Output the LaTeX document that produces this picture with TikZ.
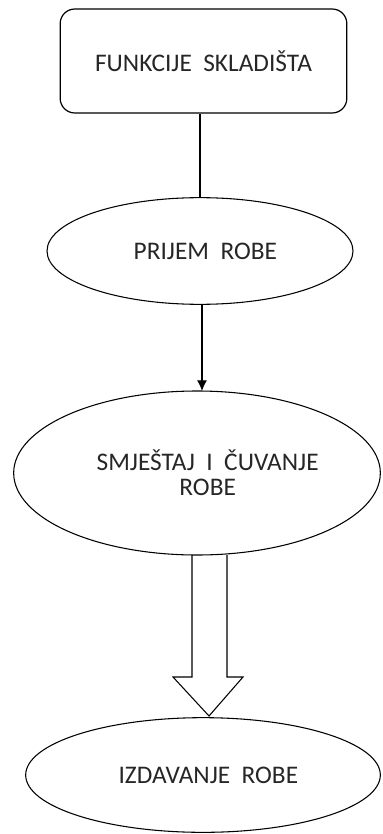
\documentclass[tikz,border=0pt]{standalone}
\usepackage{fontspec}
\setmainfont{Carlito}
\usepackage{tikz}
\usetikzlibrary{arrows.meta,shapes.geometric}

\tikzset{
  funcbox/.style={draw,line width=0.9pt,rounded corners=11pt,inner sep=0pt},
  funcell/.style={draw,ellipse,line width=0.8pt,inner sep=0pt},
  funclbl/.style={font=\fontsize{19}{19}\selectfont,text=black!85}
}

\begin{document}
\begin{tikzpicture}[x=0.75pt,y=-0.75pt]
  % page frame, in pixels of the original
  \useasboundingbox (0,0) rectangle (382,834);

  % nodes (sizes in pt = 0.75 * pixels)
  \node[funcbox,funclbl,minimum width=215pt,minimum height=78pt] (funkcije) at (203.5,61) {FUNKCIJE\ \ SKLADIŠTA};
  \node[funcell,funclbl,minimum width=229.5pt,minimum height=80pt] (prijem) at (200,251) {\hspace*{8pt}PRIJEM\ \ ROBE};
  \node[funcell,funclbl,minimum width=275pt,minimum height=123pt,align=center] (smjestaj) at (197,473) {\hspace*{16pt}SMJEŠTAJ\ \ I\ \ ČUVANJE\\[0pt]\hspace*{16pt}ROBE};
  \node[funcell,funclbl,minimum width=266pt,minimum height=86pt] (izdavanje) at (203,775) {\hspace*{8pt}IZDAVANJE\ \ ROBE};

  % plain line and thin arrow
  \draw[line width=0.8pt] (prijem.north) -- (prijem.north |- funkcije.south);
  \draw[line width=0.8pt,-{Latex[length=8pt,width=7.5pt]}] (202,305) -- (202,391);

  % hollow block arrow
  \coordinate (tip) at (209,716);
  \draw[line width=0.8pt,line join=miter]
    (192,555) -- (192,677) -- (173,677) -- (tip) -- (243,677) -- (227,677) -- (227,555);
\end{tikzpicture}
\end{document}
